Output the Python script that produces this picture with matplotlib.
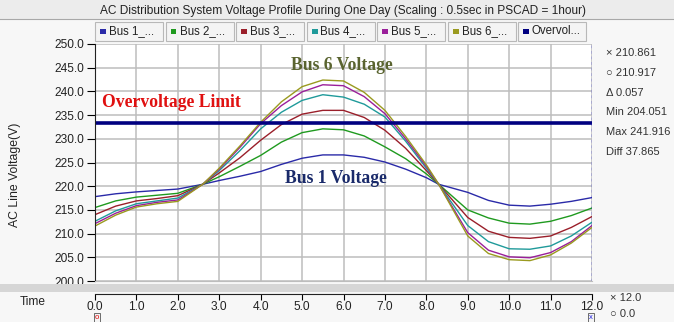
import numpy as np
import matplotlib.pyplot as plt
from matplotlib.patches import Rectangle
from matplotlib.lines import Line2D

# ======================================================
# Data
# ======================================================
hours = [0, 0.5, 1, 1.5, 2, 2.6, 3, 3.5, 4, 4.5, 5, 5.5, 6, 6.5, 7, 7.5,
         8, 8.3, 9, 9.5, 10, 10.5, 11, 11.5, 12]

bus1 = [217.8, 218.4, 218.8, 219.1, 219.4, 220.4, 221.2, 222.1, 223.1, 224.6, 225.9, 226.6, 226.6,
        226.1, 225.1, 223.6, 221.8, 220.4, 218.7, 217.0, 216.0, 215.8, 216.2, 216.8, 217.6]
bus2 = [215.5, 216.9, 217.7, 218.1, 218.5, 220.4, 222.0, 224.2, 226.5, 229.3, 231.3, 232.1, 231.9,
        230.6, 228.3, 225.8, 222.6, 220.4, 215.0, 213.3, 212.2, 212.0, 212.6, 213.8, 215.4]
bus3 = [214.0, 215.8, 216.9, 217.4, 218.0, 220.4, 222.8, 226.0, 229.7, 233.0, 235.2, 236.0, 236.0,
        234.5, 231.8, 228.0, 223.3, 220.4, 213.4, 210.5, 209.2, 209.0, 209.5, 211.3, 213.6]
bus4 = [212.6, 214.8, 216.3, 216.9, 217.5, 220.4, 223.3, 227.5, 232.1, 235.6, 238.1, 239.3, 238.8,
        237.3, 234.6, 229.5, 223.8, 220.4, 211.7, 208.3, 206.8, 206.7, 207.4, 209.5, 212.4]
bus5 = [212.1, 214.3, 215.9, 216.6, 217.1, 220.4, 223.6, 228.2, 233.2, 237.0, 239.9, 241.4, 241.2,
        238.9, 235.3, 230.0, 224.2, 220.4, 210.2, 206.5, 205.1, 204.9, 206.0, 208.3, 211.7]
bus6 = [211.6, 213.9, 215.6, 216.3, 216.8, 220.4, 223.8, 228.5, 233.5, 237.8, 241.0, 242.4, 242.2,
        239.8, 236.0, 230.5, 224.5, 220.4, 209.5, 205.8, 204.5, 204.3, 205.5, 208.0, 211.3]
overvoltage = 233.3

series = [bus1, bus2, bus3, bus4, bus5, bus6]
colors = ["#2a2aa8", "#1f9a1f", "#9a1f2a", "#1f9a9a", "#9a1f9a", "#9a9a1f"]
legend_labels = ["Bus 1_...", "Bus 2_...", "Bus 3_...", "Bus 4_...", "Bus 5_...", "Bus 6_...", "Overvol..."]
legend_colors = colors + ["#000080"]

y_ticks = [200, 205, 210, 215, 220, 225, 230, 235, 240, 245, 250]
x_ticks = list(range(0, 13))

title = "AC Distribution System Voltage Profile During One Day (Scaling : 0.5sec in PSCAD = 1hour)"
cursor_info = ["\u00d7 210.861", "\u25cb 210.917", "\u0394 0.057", "Min 204.051", "Max 241.916", "Diff 37.865"]
time_info = ["\u00d7 12.0", "\u25cb 0.0"]

W, H = 674, 322
plt.rcParams['font.family'] = ['Liberation Sans', 'DejaVu Sans']


def fx(px):
    return px / W


def fy(py):
    return 1 - py / H


fig = plt.figure(figsize=(W / 100, H / 100), dpi=100, facecolor="#f7f7f7")

# ======================================================
# Panel decorations (title bar, separator band)
# ======================================================
fig.patches.append(Rectangle((0, fy(19)), 1, 19 / H, transform=fig.transFigure,
                             facecolor="#ececec", edgecolor="none", zorder=0))
fig.add_artist(Line2D([0, 1], [fy(19), fy(19)], color="#a8a8a8", lw=0.8))
fig.text(fx(343), fy(11), title, ha="center", va="center", fontsize=8.6, color="#222222")

fig.patches.append(Rectangle((0, fy(292)), 1, 8 / H, transform=fig.transFigure,
                             facecolor="#d6d6d6", edgecolor="none", zorder=0))

# ======================================================
# Main plot
# ======================================================
ax = fig.add_axes([fx(95), fy(281), fx(497), 237 / H])
ax.set_facecolor("white")
for s, c in zip(series, colors):
    ax.plot(hours, s, color=c, lw=1.0)
ax.axhline(overvoltage, color="#000080", lw=2.6)
ax.axvline(12, color="#2020e0", lw=1.0, ls=(0, (2, 2)))

ax.set_xlim(0, 12)
ax.set_ylim(200, 250)
ax.set_xticks(x_ticks)
ax.set_yticks(y_ticks)
ax.set_yticklabels([f"{v:.1f}" for v in y_ticks], fontsize=8.6, color="#222222")
ax.tick_params(axis="x", length=0, labelbottom=False)
ax.tick_params(axis="y", length=6, width=0.8, pad=2)
ax.grid(True, color="#bdbdbd", lw=1.1)
ax.set_axisbelow(True)
for side in ["top", "right"]:
    ax.spines[side].set_visible(False)
ax.spines["left"].set_color("#222222")
ax.spines["bottom"].set_color("#bdbdbd")
ax.set_ylabel("AC Line Voltage(V)", fontsize=8.8, color="#222222")
ax.yaxis.set_label_coords(-0.148, 0.447)

# annotations
ser = dict(family="Liberation Serif", fontweight="bold", fontsize=12.7, ha="center", va="center")
ax.text(1.85, 237.6, "Overvoltage Limit", color="#e01010", **ser)
ax.text(5.97, 245.4, "Bus 6 Voltage", color="#5a6430", **ser)
ax.text(5.82, 221.7, "Bus 1 Voltage", color="#1a2a6a", **ser)

# ======================================================
# Legend boxes on top
# ======================================================
for i, (lab, c) in enumerate(zip(legend_labels, legend_colors)):
    x0 = 95 + i * 70.5
    fig.patches.append(Rectangle((fx(x0), fy(41)), fx(68), 19 / H, transform=fig.transFigure,
                                 facecolor="#f4f4f4", edgecolor="#b8b8b8", lw=0.8))
    fig.patches.append(Rectangle((fx(x0 + 5), fy(34)), fx(6), 5 / H, transform=fig.transFigure,
                                 facecolor=c, edgecolor="none"))
    fig.text(fx(x0 + 14), fy(31.5), lab, fontsize=8.3, va="center", ha="left", color="#222222")

# ======================================================
# Cursor readouts on the right
# ======================================================
for k, txt in enumerate(cursor_info):
    fig.text(fx(606), fy(53 + k * 19.8), txt, fontsize=8.0, va="center", color="#333333")
for k, txt in enumerate(time_info):
    fig.text(fx(610), fy(298 + k * 16), txt, fontsize=8.0, va="center", color="#333333")

# ======================================================
# Time axis
# ======================================================
tax = fig.add_axes([fx(95), fy(294), fx(497), 0.0001])
tax.set_xlim(0, 12)
tax.set_yticks([])
tax.set_xticks(x_ticks)
tax.set_xticklabels([f"{v:.1f}" for v in x_ticks], fontsize=8.6, color="#222222")
tax.tick_params(axis="x", length=4, width=0.8, pad=1)
for side in ["top", "right", "left"]:
    tax.spines[side].set_visible(False)
tax.spines["bottom"].set_color("#222222")
fig.text(fx(20), fy(302), "Time", fontsize=8.6, va="center", color="#222222")

# cursor markers below the time axis
fig.text(fx(97), fy(317.5), "o", fontsize=5.5, ha="center", va="center", color="#e00000",
         bbox=dict(boxstyle="square,pad=0.1", fc="#f4f4f4", ec="#555555", lw=0.6))
fig.text(fx(591), fy(317.5), "x", fontsize=5.5, ha="center", va="center", color="#2020e0",
         bbox=dict(boxstyle="square,pad=0.1", fc="#f4f4f4", ec="#555555", lw=0.6))

plt.savefig("out.png", dpi=100, facecolor=fig.get_facecolor())
plt.close()
